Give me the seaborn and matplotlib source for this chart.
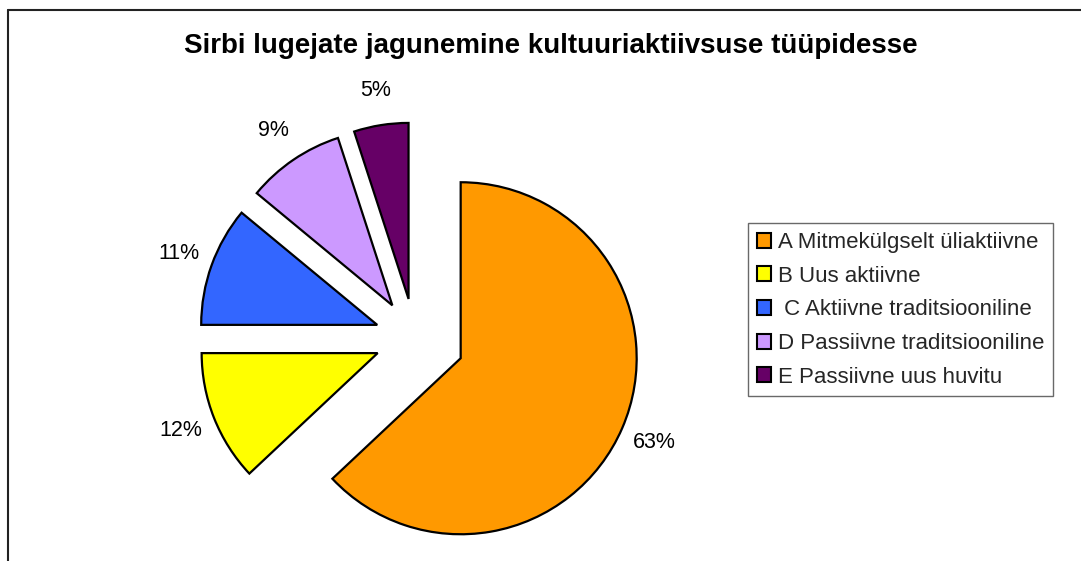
import matplotlib
matplotlib.use("Agg")
import matplotlib.pyplot as plt
from matplotlib.lines import Line2D
import seaborn as sns

title = "Sirbi lugejate jagunemine kultuuriaktiivsuse tüüpidesse"
categories = ["A Mitmekülgselt üliaktiivne", "B Uus aktiivne", " C Aktiivne traditsiooniline",
              "D Passiivne traditsiooniline", "E Passiivne uus huvitu"]
values = [63, 12, 11, 9, 5]
colors = ["#FF9900", "#FFFF00", "#3366FF", "#CC99FF", "#660066"]
explode = [0.284, 0.227, 0.227, 0.227, 0.227]

sns.set_theme(style="white")
plt.rcParams['font.family'] = ['Liberation Sans', 'DejaVu Sans']

W, H = 1081, 561
fig = plt.figure(figsize=(W / 100, H / 100), dpi=100)
ax = fig.add_axes([0, 0, 1, 1])
ax.axis("off")

cx, cy, r = 414.8, 338.4, 176.0
wedges, texts, autotexts = ax.pie(
    values, colors=colors, explode=explode, startangle=90, counterclock=False,
    autopct="%1.0f%%", pctdistance=1.2,
    wedgeprops=dict(edgecolor="black", linewidth=1.6),
    textprops=dict(fontsize=15.5, color="black"))
ax.set_aspect("equal")
ax.set_xlim(-cx / r, (W - cx) / r)
ax.set_ylim(-(H - cy) / r, cy / r)

fig.text(551 / W, 1 - 46 / H, title, ha="center", va="center",
         fontsize=20, fontweight="bold", color="black")

leg = ax.legend(wedges, categories, loc="upper left",
                bbox_to_anchor=(748 / W, 1 - 223 / H), bbox_transform=fig.transFigure,
                borderaxespad=0, fontsize=16, frameon=True, fancybox=False,
                edgecolor="#444444", handlelength=0.65, handleheight=0.65,
                handletextpad=0.3, labelspacing=0.57, borderpad=0.4)
leg.get_frame().set_linewidth(1.0)
for h in leg.legend_handles:
    h.set_linewidth(1.5)

fig.add_artist(Line2D([8 / W, 8 / W], [0, 1 - 10 / H], color="#222222", lw=1.5,
                      transform=fig.transFigure))
fig.add_artist(Line2D([8 / W, 1], [1 - 10 / H, 1 - 10 / H], color="#222222", lw=1.5,
                      transform=fig.transFigure))

fig.savefig("out.png", dpi=100, facecolor="white")
